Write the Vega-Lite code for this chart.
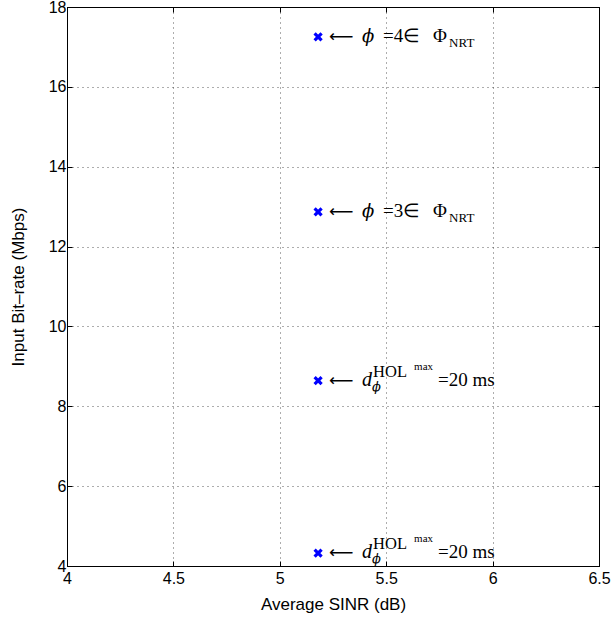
{
  "$schema": "https://vega.github.io/schema/vega-lite/v6.json",
  "width": 532,
  "height": 559,
  "autosize": {"type": "none"},
  "padding": {"left": 67, "top": 7, "right": 13, "bottom": 57},
  "background": "white",
  "config": {
    "view": {"stroke": "black", "strokeWidth": 1},
    "axis": {
      "labelFont": "Liberation Sans",
      "labelFontSize": 16,
      "labelColor": "black",
      "titleFont": "Liberation Sans",
      "titleFontSize": 17,
      "titleFontWeight": "normal",
      "titleColor": "black",
      "domainColor": "black",
      "tickColor": "black",
      "tickSize": -5,
      "format": "~g",
      "gridColor": "#333333",
      "gridDash": [1, 4],
      "gridOpacity": 0.8
    },
    "text": {"font": "Liberation Serif", "fontSize": 19, "baseline": "alphabetic", "align": "left", "color": "black"}
  },
  "data": {
    "values": [
      {"sinr": 5.18, "rate": 17.25, "kind": "class", "relation": "=4∈"},
      {"sinr": 5.18, "rate": 12.87, "kind": "class", "relation": "=3∈"},
      {"sinr": 5.18, "rate": 8.64, "kind": "delay", "relation": "=20 ms"},
      {"sinr": 5.18, "rate": 4.32, "kind": "delay", "relation": "=20 ms"}
    ]
  },
  "resolve": {"axis": {"x": "independent", "y": "independent"}},
  "layer": [
    {
      "mark": {"type": "point", "shape": "M-1,-1L1,1M-1,1L1,-1", "size": 49, "stroke": "#0000ff", "strokeWidth": 3.2, "filled": false, "opacity": 1},
      "encoding": {
        "x": {"field": "sinr", "type": "quantitative", "title": "Average SINR (dB)",
              "scale": {"domain": [4, 6.5], "nice": false, "zero": false},
              "axis": {"values": [4, 4.5, 5, 5.5, 6, 6.5], "labelPadding": 9, "titlePadding": 10, "grid": true, "labelFlush": false}},
        "y": {"field": "rate", "type": "quantitative", "title": "Input Bit–rate (Mbps)",
              "scale": {"domain": [4, 18], "nice": false, "zero": false},
              "axis": {"values": [4, 6, 8, 10, 12, 14, 16, 18], "labelPadding": 6, "titlePadding": 21, "grid": true, "labelFlush": false}}
      }
    },
    {
      "mark": {"type": "text", "text": "⟵", "font": "DejaVu Sans", "fontSize": 17, "dx": 11, "dy": 5},
      "encoding": {
        "x": {"field": "sinr", "type": "quantitative", "axis": {"orient": "top", "labels": false, "grid": false, "title": null, "values": [4, 4.5, 5, 5.5, 6, 6.5]}},
        "y": {"field": "rate", "type": "quantitative", "axis": {"orient": "right", "labels": false, "grid": false, "title": null, "values": [4, 6, 8, 10, 12, 14, 16, 18]}}
      }
    },
    {
      "transform": [{"filter": "datum.kind === 'class'"}],
      "encoding": {
        "x": {"field": "sinr", "type": "quantitative", "axis": null},
        "y": {"field": "rate", "type": "quantitative", "axis": null}
      },
      "layer": [
        {"mark": {"type": "text", "text": "ϕ", "font": "DejaVu Serif", "fontStyle": "italic", "fontSize": 18, "dx": 44, "dy": 5}},
        {"mark": {"type": "text", "dx": 65, "dy": 5}, "encoding": {"text": {"field": "relation"}}},
        {"mark": {"type": "text", "text": "Φ", "dx": 115, "dy": 5}},
        {"mark": {"type": "text", "text": "NRT", "fontSize": 13, "dx": 131, "dy": 10}}
      ]
    },
    {
      "transform": [{"filter": "datum.kind === 'delay'"}],
      "encoding": {
        "x": {"field": "sinr", "type": "quantitative", "axis": null},
        "y": {"field": "rate", "type": "quantitative", "axis": null}
      },
      "layer": [
        {"mark": {"type": "text", "text": "d", "fontStyle": "italic", "fontSize": 20, "dx": 44, "dy": 5}},
        {"mark": {"type": "text", "text": "HOL", "fontSize": 16.5, "dx": 55, "dy": -4}},
        {"mark": {"type": "text", "text": "max", "fontSize": 11, "dx": 96, "dy": -11}},
        {"mark": {"type": "text", "text": "ϕ", "font": "DejaVu Serif", "fontStyle": "italic", "fontSize": 13, "dx": 54, "dy": 10}},
        {"mark": {"type": "text", "dx": 120, "dy": 5}, "encoding": {"text": {"field": "relation"}}}
      ]
    }
  ]
}
